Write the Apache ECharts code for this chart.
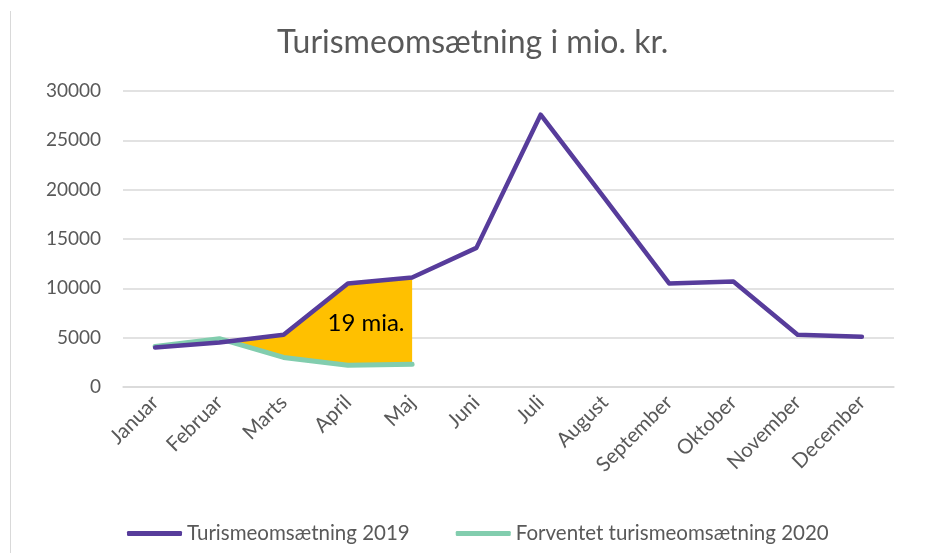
<!DOCTYPE html>
<html>
<head>
<meta charset="utf-8">
<script src="https://cdn.jsdelivr.net/npm/echarts@6/dist/echarts.min.js"></script>
<style>html,body{margin:0;padding:0;background:#fff}#c{width:926px;height:553px}</style>
</head>
<body>
<div id="c"></div>
<script>
var titleText = 'Turismeomsætning i mio. kr.';
var months = ['Januar','Februar','Marts','April','Maj','Juni','Juli','August','September','Oktober','November','December'];
var name2019 = 'Turismeomsætning 2019';
var name2020 = 'Forventet turismeomsætning 2020';
var values2019 = [4000, 4500, 5300, 10500, 11100, 14100, 27600, 19100, 10500, 10700, 5300, 5100];
var values2020 = [4100, 4900, 3000, 2200, 2300];
var yTicks = { min: 0, max: 30000, interval: 5000 };
var gapLabel = '19 mia.';
var gapLabelValue = 6500;
var gapFrom = 1, gapTo = 4;

var FONT = 'Lato';
var chart = echarts.init(document.getElementById('c'));

function renderGap(params, api) {
  var top = [], bot = [];
  for (var i = gapFrom; i <= gapTo; i++) {
    top.push(api.coord([i, values2019[i]]));
    bot.push(api.coord([i, values2020[i]]));
  }
  var a0 = top[0], a1 = top[1], b0 = bot[0], b1 = bot[1];
  var d0 = a0[1] - b0[1], d1 = a1[1] - b1[1];
  var t = d0 / (d0 - d1);
  var cross = [a0[0] + (a1[0] - a0[0]) * t, a0[1] + (a1[1] - a0[1]) * t];
  var pts = [cross];
  for (var k = 1; k < top.length; k++) pts.push(top[k]);
  for (var k2 = bot.length - 1; k2 >= 1; k2--) pts.push(bot[k2]);
  var lx = (api.coord([3, 0])[0] + api.coord([4, 0])[0]) / 2 - 14;
  var ly = api.coord([3, gapLabelValue])[1];
  return {
    type: 'group',
    children: [
      { type: 'polygon', shape: { points: pts }, style: { fill: '#FFC000' } },
      { type: 'text', x: lx, y: ly, style: { text: gapLabel, fill: '#000', font: '24px ' + FONT, align: 'center', verticalAlign: 'middle' } }
    ]
  };
}

chart.setOption({
  animation: false,
  backgroundColor: '#fff',
  title: {
    text: titleText, left: 272, top: 22,
    textStyle: { color: '#595959', fontFamily: FONT, fontSize: 32, fontWeight: 'normal' }
  },
  graphic: [{ type: 'line', shape: { x1: 10.5, y1: 11, x2: 10.5, y2: 553 }, style: { stroke: '#d9d9d9', lineWidth: 1 } }],
  grid: { left: 123, right: 32, top: 91, bottom: 166 },
  legend: {
    left: 122, top: 518, itemWidth: 55, itemHeight: 5, itemGap: 46, icon: 'roundRect',
    textStyle: { color: '#595959', fontFamily: FONT, fontSize: 20.5 },
    data: [name2019, name2020]
  },
  xAxis: {
    type: 'category', data: months, boundaryGap: true,
    axisLine: { show: true, lineStyle: { color: '#d9d9d9', width: 1.5 } },
    axisTick: { show: false },
    axisLabel: { rotate: 45, color: '#595959', fontFamily: FONT, fontSize: 20.5, margin: 12, interval: 0 }
  },
  yAxis: {
    type: 'value', min: yTicks.min, max: yTicks.max, interval: yTicks.interval,
    axisLine: { show: false }, axisTick: { show: false },
    splitLine: { lineStyle: { color: '#d9d9d9', width: 1.5 } },
    axisLabel: { color: '#595959', fontFamily: FONT, fontSize: 19, margin: 22, formatter: function (v) { return String(v); } }
  },
  series: [
    { type: 'custom', name: 'gap', z: 1, renderItem: renderGap, data: [[0]], silent: true },
    { type: 'line', name: name2019, data: values2019, symbol: 'none', z: 3,
      color: '#573C9B', lineStyle: { width: 4.5, color: '#573C9B', cap: 'round', join: 'round' } },
    { type: 'line', name: name2020, data: values2020, symbol: 'none', z: 2,
      color: '#82CDAE', lineStyle: { width: 5, color: '#82CDAE', cap: 'round', join: 'round' } }
  ]
});
</script>
</body>
</html>
